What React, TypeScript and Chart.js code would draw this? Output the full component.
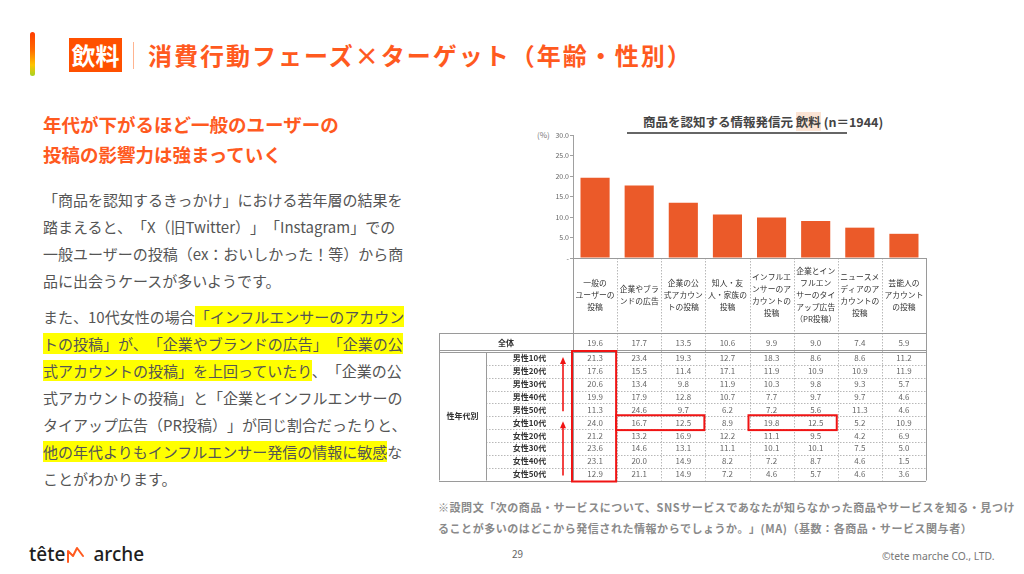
import React, { useEffect, useRef } from 'react';
import { Chart, registerables } from 'chart.js';

Chart.register(...registerables);

// ---------- data ----------
const categories: string[][] = [
  ['一般の', 'ユーザーの', '投稿'],
  ['企業やブラ', 'ンドの広告'],
  ['企業の公', '式アカウン', 'トの投稿'],
  ['知人・友', '人・家族の', '投稿'],
  ['インフルエ', 'ンサーのア', 'カウントの', '投稿'],
  ['企業とイン', 'フルエン', 'サーのタイ', 'アップ広告', '（PR投稿）'],
  ['ニュースメ', 'ディアのア', 'カウントの', '投稿'],
  ['芸能人の', 'アカウント', 'の投稿'],
];
const totalLabel = '全体';
const totalValues = [19.6, 17.7, 13.5, 10.6, 9.9, 9.0, 7.4, 5.9];

const groupLabel = '性年代別';
const segmentLabels = ['男性10代', '男性20代', '男性30代', '男性40代', '男性50代', '女性10代', '女性20代', '女性30代', '女性40代', '女性50代'];
const male10s = [21.3, 23.4, 19.3, 12.7, 18.3, 8.6, 8.6, 11.2];
const male20s = [17.6, 15.5, 11.4, 17.1, 11.9, 10.9, 10.9, 11.9];
const male30s = [20.6, 13.4, 9.8, 11.9, 10.3, 9.8, 9.3, 5.7];
const male40s = [19.9, 17.9, 12.8, 10.7, 7.7, 9.7, 9.7, 4.6];
const male50s = [11.3, 24.6, 9.7, 6.2, 7.2, 5.6, 11.3, 4.6];
const female10s = [24.0, 16.7, 12.5, 8.9, 19.8, 12.5, 5.2, 10.9];
const female20s = [21.2, 13.2, 16.9, 12.2, 11.1, 9.5, 4.2, 6.9];
const female30s = [23.6, 14.6, 13.1, 11.1, 10.1, 10.1, 7.5, 5.0];
const female40s = [23.1, 20.0, 14.9, 8.2, 7.2, 8.7, 4.6, 1.5];
const female50s = [12.9, 21.1, 14.9, 7.2, 4.6, 5.7, 4.6, 3.6];
const segmentValues = [male10s, male20s, male30s, male40s, male50s, female10s, female20s, female30s, female40s, female50s];

// highlighted cells: [rowFrom, rowTo, colFrom, colTo]
const redBoxes: number[][] = [
  [0, 9, 0, 0],
  [5, 5, 1, 2],
  [5, 5, 4, 5],
];
// arrows in label column: [rowFrom(bottom), rowTo(top)]
const redArrows: number[][] = [
  [4, 0],
  [9, 5],
];

const yMax = 30;
const yStep = 5;

const FONT = "'Noto Sans CJK JP', 'Noto Sans', sans-serif";
const BAR_COLOR = '#EB5A29';
const RED = '#F01414';

const tablePlugin = {
  id: 'tablePlugin',
  afterDraw(chart: any) {
    const ctx: CanvasRenderingContext2D = chart.ctx;
    const xs = chart.scales.x;
    const ca = chart.chartArea;
    const n = categories.length;
    const step = xs.getPixelForValue(1) - xs.getPixelForValue(0);
    const colLeft = (i: number) => xs.getPixelForValue(i) - step / 2;
    const right = colLeft(n);
    const tableLeft = 9;
    const groupRight = 56;
    const labelRight = colLeft(0);
    const hdrTop = ca.bottom;
    const hdrBottom = hdrTop + 75;
    const totalBottom = hdrBottom + 19;
    const rowH = 12.85;
    const tableBottom = totalBottom + rowH * segmentLabels.length;
    const rowTop = (r: number) => totalBottom + r * rowH;
    const px = (v: number) => Math.round(v) + 0.5;

    ctx.save();
    // dashed inner lines
    ctx.strokeStyle = '#B8B8B8';
    ctx.lineWidth = 1;
    ctx.setLineDash([1.5, 1.5]);
    for (let i = 1; i < n; i++) {
      ctx.beginPath();
      ctx.moveTo(px(colLeft(i)), hdrTop);
      ctx.lineTo(px(colLeft(i)), tableBottom);
      ctx.stroke();
    }
    for (let r = 1; r < segmentLabels.length; r++) {
      ctx.beginPath();
      ctx.moveTo(groupRight, px(rowTop(r)));
      ctx.lineTo(right, px(rowTop(r)));
      ctx.stroke();
    }
    ctx.setLineDash([]);
    // solid lines
    ctx.strokeStyle = '#9A9A9A';
    const hLine = (y: number, x0: number, x1: number) => {
      ctx.beginPath();
      ctx.moveTo(x0, px(y));
      ctx.lineTo(x1, px(y));
      ctx.stroke();
    };
    const vLine = (x: number, y0: number, y1: number) => {
      ctx.beginPath();
      ctx.moveTo(px(x), y0);
      ctx.lineTo(px(x), y1);
      ctx.stroke();
    };
    hLine(hdrTop, labelRight, right);
    hLine(hdrBottom, tableLeft, right);
    hLine(totalBottom, tableLeft, right);
    hLine(totalBottom - 2, tableLeft, right);
    hLine(tableBottom, tableLeft, right);
    vLine(labelRight, hdrTop, tableBottom);
    vLine(right, hdrTop, tableBottom);
    vLine(tableLeft, hdrBottom, tableBottom);
    vLine(groupRight, totalBottom, tableBottom);

    // header text
    ctx.fillStyle = '#333';
    ctx.textAlign = 'center';
    ctx.textBaseline = 'middle';
    ctx.font = `7.8px ${FONT}`;
    const hdrMid = (hdrTop + hdrBottom) / 2;
    categories.forEach((lines, i) => {
      const cx = xs.getPixelForValue(i);
      const lh = 12;
      const y0 = hdrMid - ((lines.length - 1) * lh) / 2;
      lines.forEach((t, k) => ctx.fillText(t, cx, y0 + k * lh));
    });

    // total row
    ctx.font = `bold 8px ${FONT}`;
    ctx.fillStyle = '#333';
    const totMid = (hdrBottom + totalBottom) / 2;
    ctx.fillText(totalLabel, (tableLeft + labelRight) / 2, totMid);
    ctx.font = `8px ${FONT}`;
    ctx.fillStyle = '#666';
    totalValues.forEach((v, i) => ctx.fillText(v.toFixed(1), xs.getPixelForValue(i), totMid));

    // group label
    ctx.font = `bold 8px ${FONT}`;
    ctx.fillStyle = '#333';
    ctx.fillText(groupLabel, (tableLeft + groupRight) / 2, (totalBottom + tableBottom) / 2);

    // segment rows
    segmentLabels.forEach((lab, r) => {
      const cy = rowTop(r) + rowH / 2;
      ctx.font = `bold 8px ${FONT}`;
      ctx.fillStyle = '#333';
      ctx.fillText(lab, (groupRight + labelRight) / 2, cy);
      ctx.font = `8px ${FONT}`;
      ctx.fillStyle = '#666';
      segmentValues[r].forEach((v, i) => ctx.fillText(v.toFixed(1), xs.getPixelForValue(i), cy));
    });

    // red boxes
    ctx.strokeStyle = RED;
    ctx.lineWidth = 2;
    redBoxes.forEach(([r0, r1, c0, c1]) => {
      const x0 = colLeft(c0) - 1;
      const x1 = colLeft(c1 + 1) - 1;
      const y0 = rowTop(r0) - 1;
      const y1 = rowTop(r1 + 1) + 1;
      ctx.strokeRect(x0, y0, x1 - x0, y1 - y0);
    });

    // red arrows
    ctx.fillStyle = RED;
    ctx.lineWidth = 1.6;
    const ax = labelRight - 10;
    redArrows.forEach(([rb, rt]) => {
      const yTail = rowTop(rb + 1) - 5;
      const yTip = rowTop(rt) + 5;
      ctx.beginPath();
      ctx.moveTo(ax, yTail);
      ctx.lineTo(ax, yTip + 5);
      ctx.stroke();
      ctx.beginPath();
      ctx.moveTo(ax, yTip);
      ctx.lineTo(ax - 3, yTip + 7);
      ctx.lineTo(ax + 3, yTip + 7);
      ctx.closePath();
      ctx.fill();
    });
    ctx.restore();
  },
};

function BarTable() {
  const ref = useRef<HTMLCanvasElement>(null);
  useEffect(() => {
    if (!ref.current) return;
    Chart.defaults.font.family = FONT;
    const chart = new Chart(ref.current, {
      type: 'bar',
      data: {
        labels: categories.map((c) => c.join('')),
        datasets: [
          {
            data: totalValues,
            backgroundColor: BAR_COLOR,
            barPercentage: 0.66,
            categoryPercentage: 1,
          },
        ],
      },
      options: {
        responsive: false,
        animation: false,
        devicePixelRatio: 1,
        layout: { padding: { left: 0, right: 4, top: 35, bottom: 232 } },
        plugins: {
          legend: { display: false },
          tooltip: { enabled: false },
          title: { display: false },
        },
        scales: {
          x: { display: false, grid: { display: false } },
          y: {
            min: 0,
            max: yMax,
            ticks: {
              stepSize: yStep,
              callback: (v: any) => (Number(v) === 0 ? '-' : Number(v).toFixed(1)),
              font: { size: 7, family: FONT },
              color: '#666',
              padding: 1,
            },
            grid: { drawOnChartArea: false, tickLength: 3, color: '#A0A0A0' },
            border: { color: '#A0A0A0' },
            afterFit: (s: any) => {
              s.width = 143;
            },
          },
        },
      } as any,
      plugins: [tablePlugin],
    });
    return () => chart.destroy();
  }, []);
  return (
    <canvas
      ref={ref}
      width={500}
      height={390}
      style={{ position: 'absolute', left: 430, top: 100, width: 500, height: 390 }}
    />
  );
}

const ORANGE = '#FF5A1F';
const hl: React.CSSProperties = { background: '#FFFF00' };

export default function App() {
  useEffect(() => {
    document.body.style.overflow = 'hidden';
  }, []);
  const para: React.CSSProperties = {
    position: 'absolute',
    left: 43,
    fontSize: 15,
    lineHeight: '27px',
    color: '#555',
    whiteSpace: 'nowrap',
  };
  return (
    <div
      style={{
        position: 'absolute',
        left: 0,
        top: 0,
        width: 1024,
        height: 574,
        background: '#fff',
        overflow: 'hidden',
        fontFamily: FONT,
        ['textSpacingTrim' as any]: 'space-all',
      }}
    >
      {/* header */}
      <div
        style={{
          position: 'absolute',
          left: 30,
          top: 32,
          width: 5,
          height: 44,
          borderRadius: 3,
          background: 'linear-gradient(to bottom, #FF3C00 0%, #FF6A00 40%, #FFC400 75%, #A6D323 100%)',
        }}
      />
      <div
        style={{
          position: 'absolute',
          left: 69,
          top: 38,
          width: 53,
          height: 34,
          background: '#FF5000',
          color: '#fff',
          fontWeight: 700,
          fontSize: 24,
          lineHeight: '34px',
          textAlign: 'center',
        }}
      >
        飲料
      </div>
      <div style={{ position: 'absolute', left: 133, top: 42, width: 1, height: 27, background: '#FFB490' }} />
      <div
        style={{
          position: 'absolute',
          left: 148,
          top: 38,
          height: 34,
          lineHeight: '34px',
          fontSize: 24,
          fontWeight: 700,
          letterSpacing: 2,
          color: ORANGE,
          whiteSpace: 'nowrap',
        }}
      >
        消費行動フェーズ×ターゲット（年齢・性別）
      </div>

      {/* left text */}
      <div
        style={{
          position: 'absolute',
          left: 43,
          top: 109,
          fontSize: 18.5,
          lineHeight: '30px',
          fontWeight: 700,
          color: ORANGE,
          whiteSpace: 'nowrap',
        }}
      >
        <div>年代が下がるほど一般のユーザーの</div>
        <div>投稿の影響力は強まっていく</div>
      </div>
      <div style={{ ...para, top: 185.5 }}>
        <div>「商品を認知するきっかけ」における若年層の結果を</div>
        <div>踏まえると、「X（旧Twitter）」「Instagram」での</div>
        <div>一般ユーザーの投稿（ex：おいしかった！等）から商</div>
        <div>品に出会うケースが多いようです。</div>
      </div>
      <div style={{ ...para, top: 302.5 }}>
        <div>
          また、10代女性の場合<span style={hl}>「インフルエンサーのアカウン</span>
        </div>
        <div>
          <span style={hl}>トの投稿」が、「企業やブランドの広告」「企業の公</span>
        </div>
        <div>
          <span style={hl}>式アカウントの投稿」を上回っていたり</span>、「企業の公
        </div>
        <div>式アカウントの投稿」と「企業とインフルエンサーの</div>
        <div>タイアップ広告（PR投稿）」が同じ割合だったりと、</div>
        <div>
          <span style={hl}>他の年代よりもインフルエンサー発信の情報に敏感</span>な
        </div>
        <div>ことがわかります。</div>
      </div>

      {/* chart title */}
      <div
        style={{
          position: 'absolute',
          left: 643,
          top: 113,
          fontSize: 12.5,
          lineHeight: '18px',
          fontWeight: 700,
          color: '#444',
          whiteSpace: 'nowrap',
        }}
      >
        商品を認知する情報発信元 <span style={{ background: '#FBE4D5' }}>飲料</span> (n＝1944)
      </div>
      <div style={{ position: 'absolute', left: 627, top: 132, width: 220, height: 1.5, background: '#666' }} />
      <div style={{ position: 'absolute', left: 537, top: 129, fontSize: 8, lineHeight: '12px', color: '#777' }}>(%)</div>

      <BarTable />

      {/* footnote */}
      <div
        style={{
          position: 'absolute',
          left: 438,
          top: 496.5,
          fontSize: 11,
          lineHeight: '21px',
          fontWeight: 700,
          letterSpacing: 0.55,
          color: '#8A8A8A',
          whiteSpace: 'nowrap',
        }}
      >
        <div>※設問文「次の商品・サービスについて、SNSサービスであなたが知らなかった商品やサービスを知る・見つけ</div>
        <div>ることが多いのはどこから発信された情報からでしょうか。」(MA)（基数：各商品・サービス関与者）</div>
      </div>

      {/* footer */}
      <div
        style={{
          position: 'absolute',
          left: 29,
          top: 541,
          fontFamily: "'Noto Sans', sans-serif",
          fontSize: 19,
          fontWeight: 500,
          lineHeight: '26px',
          color: '#1E1E1E',
          whiteSpace: 'nowrap',
          display: 'flex',
          alignItems: 'center',
        }}
      >
        <span>tête</span>
        <svg width="19" height="18" viewBox="0 0 19 18" style={{ margin: '0 8px 0 1px' }}>
          <polyline points="2,17 2,6 7,11 11,3 17,11" fill="none" stroke="#FF5A1F" strokeWidth="2" strokeLinejoin="round" strokeLinecap="round" />
        </svg>
        <span>arche</span>
      </div>
      <div style={{ position: 'absolute', left: 512, top: 547, fontSize: 10, lineHeight: '14px', color: '#666' }}>29</div>
      <div
        style={{
          position: 'absolute',
          left: 882,
          top: 549,
          fontSize: 10.3,
          lineHeight: '14px',
          color: '#777',
          whiteSpace: 'nowrap',
          fontFamily: "'Noto Sans', sans-serif",
        }}
      >
        ©tete marche CO., LTD.
      </div>
    </div>
  );
}
